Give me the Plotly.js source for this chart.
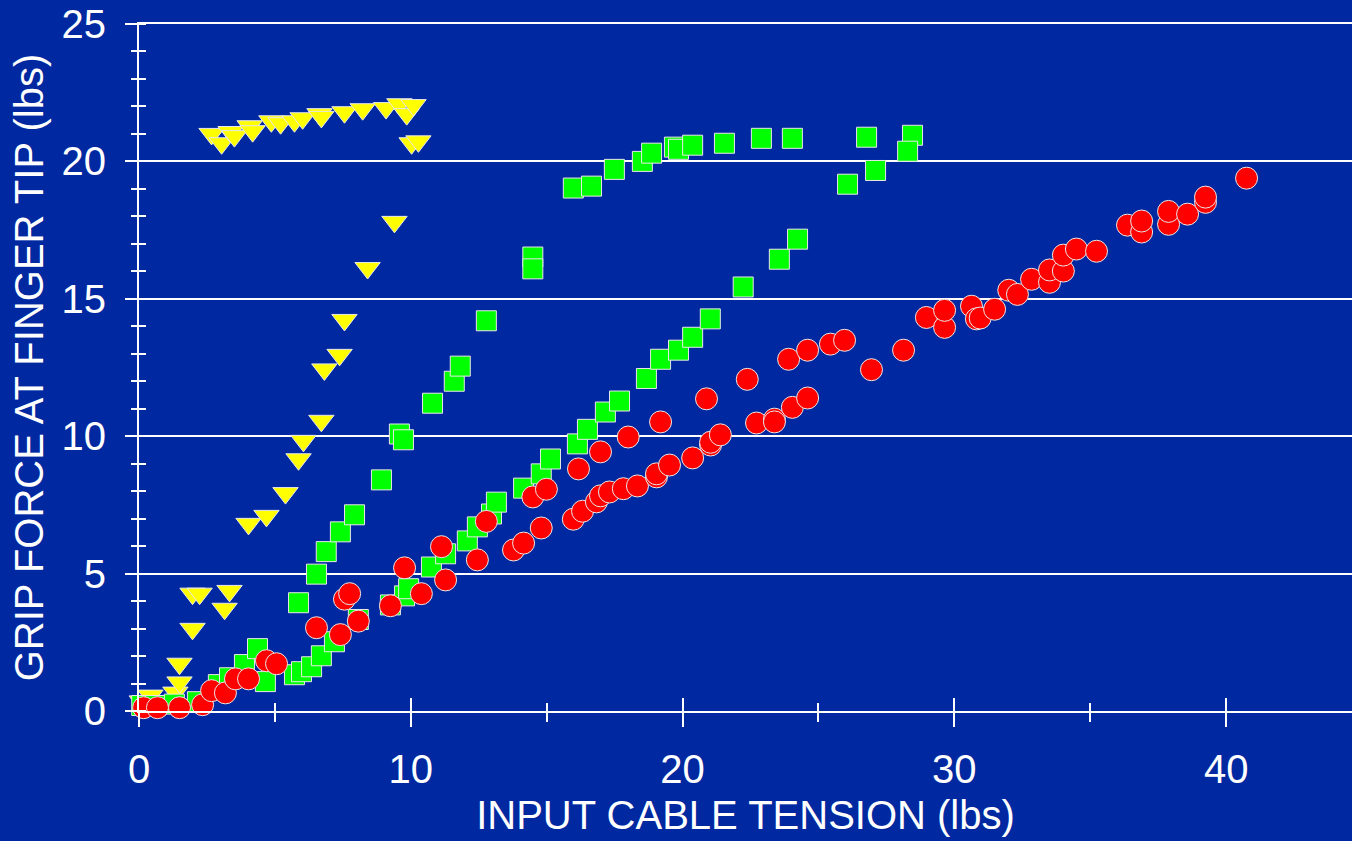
<!DOCTYPE html>
<html>
<head>
<meta charset="utf-8">
<script src="https://cdn.plot.ly/plotly-3.0.1.min.js"></script>
<style>html,body{margin:0;padding:0;background:#0028A0;}#chart{width:1352px;height:841px;}</style>
</head>
<body>
<div id="chart"></div>
<script>
// Yellow inverted triangles
const yellowX = [0.1,0.42,1.34,1.49,1.49,1.97,1.97,2.23,3.15,3.33,4.03,4.69,5.39,5.87,6.05,6.71,6.82,7.38,7.56,8.41,9.40,
  2.67,3.04,3.37,3.51,4.07,4.18,4.87,5.21,5.72,6.02,6.64,6.71,7.56,8.23,9.09,9.58,9.85,10.10,10.03,10.28];
const yellowY = [0.35,0.56,0.67,1.04,1.72,2.99,4.27,4.27,3.72,4.37,6.81,7.10,7.93,9.16,9.83,10.56,12.43,12.96,14.23,16.12,17.8,
  21.0,20.66,21.07,20.92,21.28,21.1,21.46,21.39,21.46,21.57,21.72,21.62,21.79,21.90,21.94,22.08,21.72,22.05,20.66,20.73];

// Green squares
const greenX = [0.1,0.6,1.3,2.15,2.92,3.33,3.88,4.36,4.65,5.72,5.98,6.35,6.71,7.19,8.07,5.87,6.53,6.89,7.41,7.93,8.92,9.58,9.73,10.80,11.6,11.82,12.78,14.49,14.49,
  15.98,16.65,17.49,18.52,18.86,19.70,19.85,20.37,21.54,22.9,24.04,26.77,28.46,28.28,26.07,27.1,
  9.25,9.77,9.92,10.76,11.28,12.08,12.45,12.97,13.15,14.15,14.8,15.14,16.13,16.5,17.16,17.68,18.67,19.19,19.85,20.37,21.02,22.23,23.56,24.23];
const greenY = [0.2,0.2,0.25,0.34,0.96,1.21,1.69,2.27,1.07,1.32,1.43,1.61,2.01,2.52,3.33,3.94,4.98,5.8,6.52,7.14,8.41,10.08,9.87,11.2,12.0,12.55,14.2,16.52,16.09,
  19.03,19.1,19.71,20.0,20.3,20.52,20.44,20.59,20.66,20.84,20.84,20.88,20.95,20.37,19.17,19.67,
  3.86,4.19,4.45,5.24,5.72,6.19,6.7,7.17,7.6,8.11,8.63,9.17,9.72,10.25,10.88,11.28,12.1,12.8,13.13,13.6,14.27,15.43,16.44,17.17];

// Red ellipses
const redX = [0.17,0.68,1.49,2.34,2.67,3.18,3.55,4.03,4.69,5.06,6.53,7.41,7.56,7.75,8.07,9.25,9.77,10.39,11.13,11.28,12.45,12.78,13.78,14.15,14.49,14.99,14.8,
  15.98,16.32,16.17,16.98,18.0,19.19,20.88,22.38,16.83,16.98,17.31,17.82,18.34,19.04,19.04,19.52,20.37,21.03,21.03,21.39,22.72,23.38,23.38,24.04,24.6,
  23.9,24.6,25.44,25.96,26.95,28.13,28.97,29.64,29.64,30.63,30.81,30.95,31.48,32.0,32.32,32.84,33.5,33.5,34.01,34.01,34.49,35.23,36.37,36.89,36.89,37.88,37.88,38.58,39.24,39.24,40.75];
const redY = [0.12,0.12,0.12,0.23,0.74,0.66,1.17,1.17,1.83,1.72,3.03,2.78,4.07,4.27,3.27,3.83,5.21,4.27,5.98,4.77,5.50,6.9,5.86,6.11,7.79,8.07,6.66,
  6.98,7.27,8.81,9.43,9.97,10.52,11.36,12.07,7.61,7.83,7.97,8.09,8.19,8.52,8.63,8.95,9.21,9.68,9.78,10.05,10.48,10.62,10.52,11.05,11.39,
  12.8,13.13,13.35,13.49,12.42,13.13,14.32,13.96,14.58,14.73,14.27,14.3,14.62,15.31,15.16,15.71,15.6,16.05,16.01,16.59,16.81,16.73,17.68,17.43,17.83,17.71,18.18,18.08,18.51,18.7,19.39];

const bg = '#0028A0';
const outline = {color: '#e8e8e8', width: 1};

const traces = [
  {x: yellowX, y: yellowY, type: 'scatter', mode: 'markers', cliponaxis: false,
   marker: {symbol: 'triangle-down', size: 22, color: '#FFFF00', line: outline}},
  {x: greenX, y: greenY, type: 'scatter', mode: 'markers', cliponaxis: false,
   marker: {symbol: 'square', size: 20, color: '#00FF00', line: outline}},
  {x: redX, y: redY, type: 'scatter', mode: 'markers', cliponaxis: false,
   marker: {symbol: 'circle', size: 22, color: '#FF0000', line: outline}},
  {x: [], y: [], type: 'scatter', mode: 'markers', xaxis: 'x2', yaxis: 'y2', hoverinfo: 'skip'}
];

const fontFam = 'Liberation Sans, Arial, Helvetica, sans-serif';
const layout = {
  width: 1352, height: 841,
  paper_bgcolor: bg, plot_bgcolor: bg,
  margin: {l: 139, r: 0, t: 24, b: 130},
  showlegend: false,
  font: {family: fontFam, color: '#ffffff', size: 40},
  xaxis: {
    range: [0, 44.63], tickvals: [0, 10, 20, 30, 40],
    ticks: 'outside', ticklen: 14, tickwidth: 2, tickcolor: '#ffffff',
    showline: true, linecolor: '#ffffff', linewidth: 2, mirror: true,
    showgrid: false, zeroline: false,
    minor: {dtick: 5, tick0: 0, ticks: 'outside', ticklen: 9, tickwidth: 2, tickcolor: '#ffffff', showgrid: false},
    tickfont: {size: 40, color: '#ffffff'},
    ticklabelstandoff: 8,
    title: {text: 'INPUT CABLE TENSION (lbs)', font: {size: 40, color: '#ffffff'}, standoff: 11},
    automargin: false, fixedrange: true
  },
  yaxis: {
    range: [0, 25], tickvals: [0, 5, 10, 15, 20, 25],
    ticks: 'outside', ticklen: 12, tickwidth: 2, tickcolor: '#ffffff',
    showline: true, linecolor: '#ffffff', linewidth: 2,
    showgrid: true, gridcolor: '#ffffff', gridwidth: 2, zeroline: false,
    minor: {dtick: 1, tick0: 0, ticks: 'outside', ticklen: 6, tickwidth: 2, tickcolor: '#ffffff', showgrid: false},
    tickfont: {size: 40, color: '#ffffff'},
    ticklabelstandoff: 11,
    title: {text: 'GRIP FORCE AT FINGER TIP (lbs)', font: {size: 40, color: '#ffffff'}, standoff: 6},
    automargin: false, fixedrange: true
  },
  xaxis2: {
    overlaying: 'x', anchor: 'y2', range: [0, 44.63], tickvals: [0, 10, 20, 30, 40],
    ticks: 'inside', ticklen: 13, tickwidth: 2, tickcolor: '#ffffff',
    showticklabels: false, showline: false, showgrid: false, zeroline: false,
    minor: {dtick: 5, tick0: 0, ticks: 'inside', ticklen: 8, tickwidth: 2, tickcolor: '#ffffff', showgrid: false},
    fixedrange: true
  },
  yaxis2: {
    overlaying: 'y', anchor: 'x2', range: [0, 25], tickvals: [0, 5, 10, 15, 20, 25],
    ticks: '', showticklabels: false, showline: false, showgrid: false, zeroline: false,
    minor: {dtick: 1, tick0: 0, ticks: 'inside', ticklen: 7, tickwidth: 2, tickcolor: '#ffffff', showgrid: false},
    fixedrange: true
  }
};

Plotly.newPlot('chart', traces, layout, {displayModeBar: false, staticPlot: true});
</script>
</body>
</html>
